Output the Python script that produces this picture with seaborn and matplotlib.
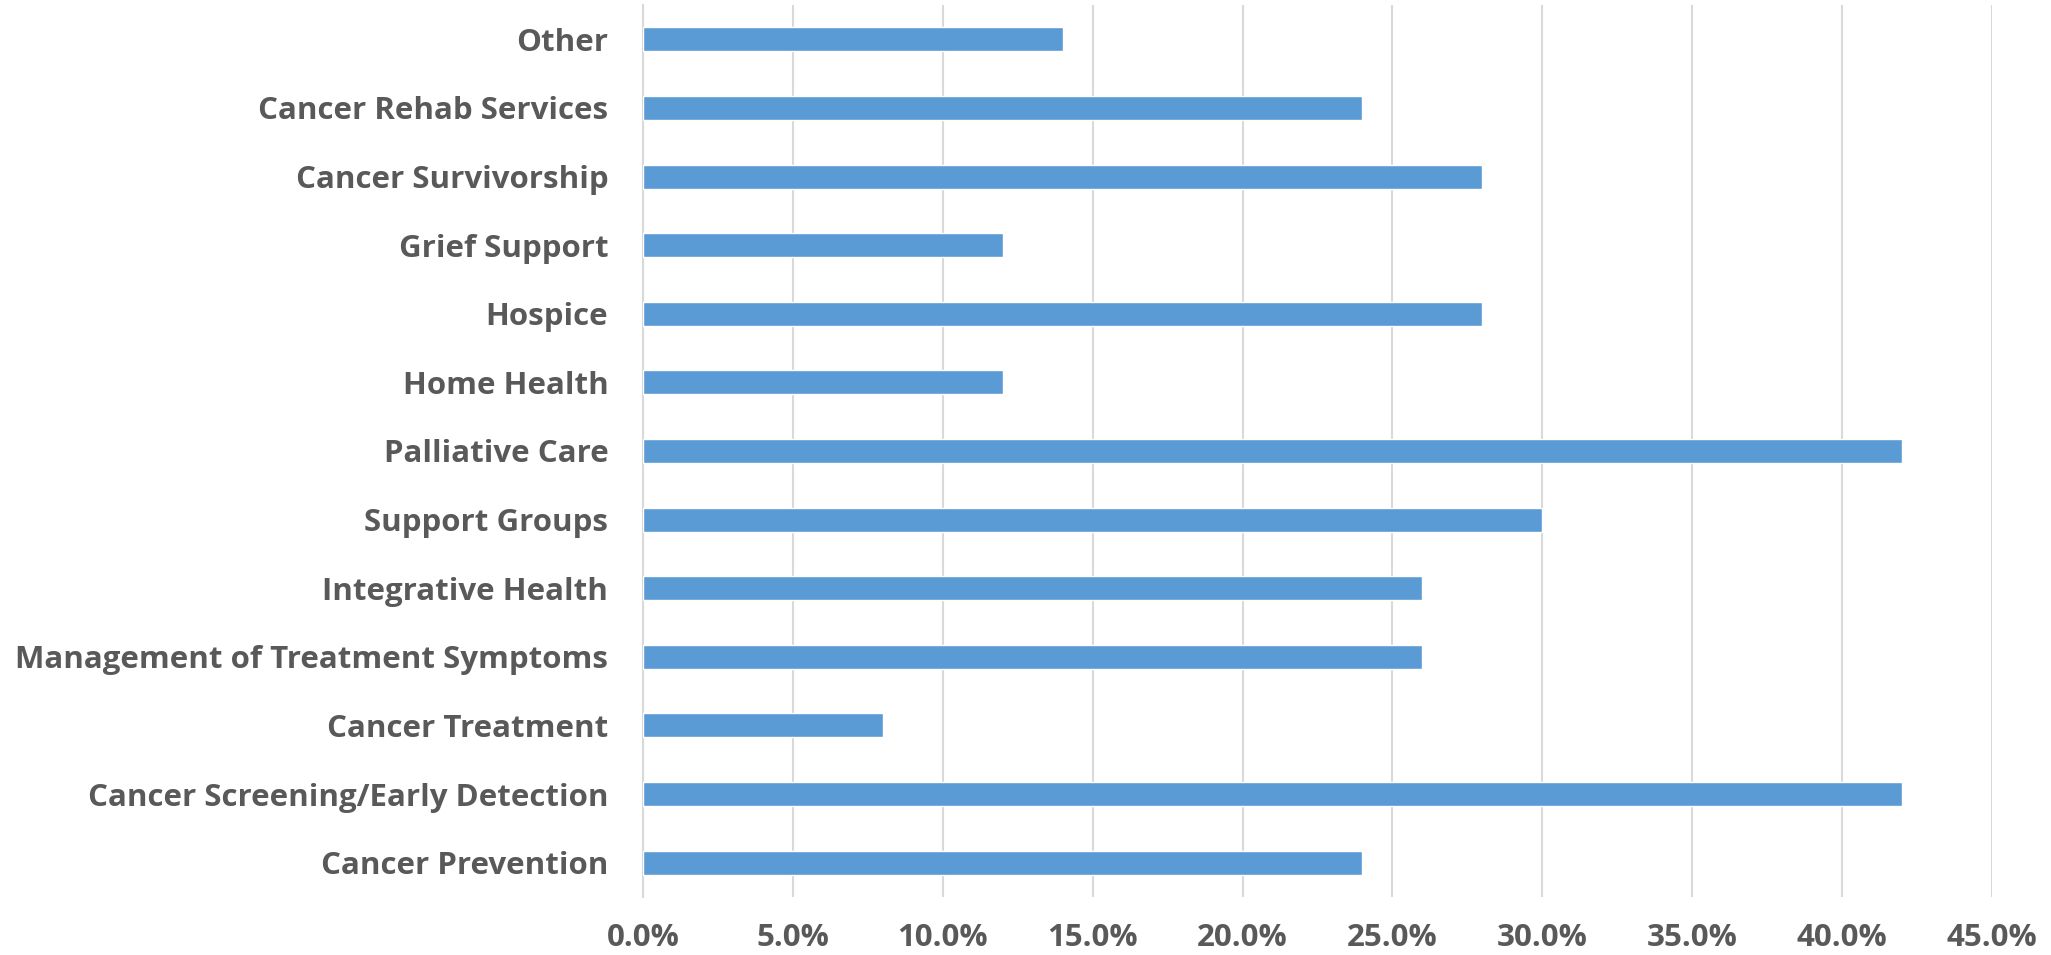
import matplotlib
matplotlib.use("Agg")
import matplotlib.pyplot as plt
import matplotlib.ticker as mticker
import seaborn as sns
import pandas as pd

services = [
    "Other",
    "Cancer Rehab Services",
    "Cancer Survivorship",
    "Grief Support",
    "Hospice",
    "Home Health",
    "Palliative Care",
    "Support Groups",
    "Integrative Health",
    "Management of Treatment Symptoms",
    "Cancer Treatment",
    "Cancer Screening/Early Detection",
    "Cancer Prevention",
]
shares = [0.14, 0.24, 0.28, 0.12, 0.28, 0.12, 0.42, 0.30, 0.26, 0.26, 0.08, 0.42, 0.24]
x_ticks = [0.0, 0.05, 0.10, 0.15, 0.20, 0.25, 0.30, 0.35, 0.40, 0.45]

df = pd.DataFrame({"service": services, "share": shares})

sns.set_theme(style="white")
plt.rcParams["font.family"] = ["Open Sans", "DejaVu Sans"]

fig = plt.figure(figsize=(20.51, 9.55), dpi=100)
ax = fig.add_axes([0.3135, 0.0607, 0.6577, 0.9341])

sns.barplot(data=df, x="share", y="service", order=services, color="#5B9BD5",
            saturation=1, width=0.35, orient="h", ax=ax, zorder=3)

ax.set_xlim(0, 0.45)
ax.set_xticks(x_ticks)
ax.xaxis.set_major_formatter(mticker.FuncFormatter(lambda v, _: f"{v*100:.1f}%"))
ax.grid(axis="x", color="#D9D9D9", linewidth=1.5, zorder=0)
ax.set_axisbelow(True)
for side in ["top", "right", "bottom"]:
    ax.spines[side].set_visible(False)
ax.spines["left"].set_color("#D9D9D9")
ax.spines["left"].set_linewidth(1.5)
ax.set_xlabel("")
ax.set_ylabel("")
ax.tick_params(axis="y", length=0, pad=25, labelsize=22.5, labelcolor="#595959")
ax.tick_params(axis="x", length=0, pad=19, labelsize=22.5, labelcolor="#595959")
for lbl in ax.get_yticklabels() + ax.get_xticklabels():
    lbl.set_fontweight("bold")

fig.savefig("out.png", dpi=100)
